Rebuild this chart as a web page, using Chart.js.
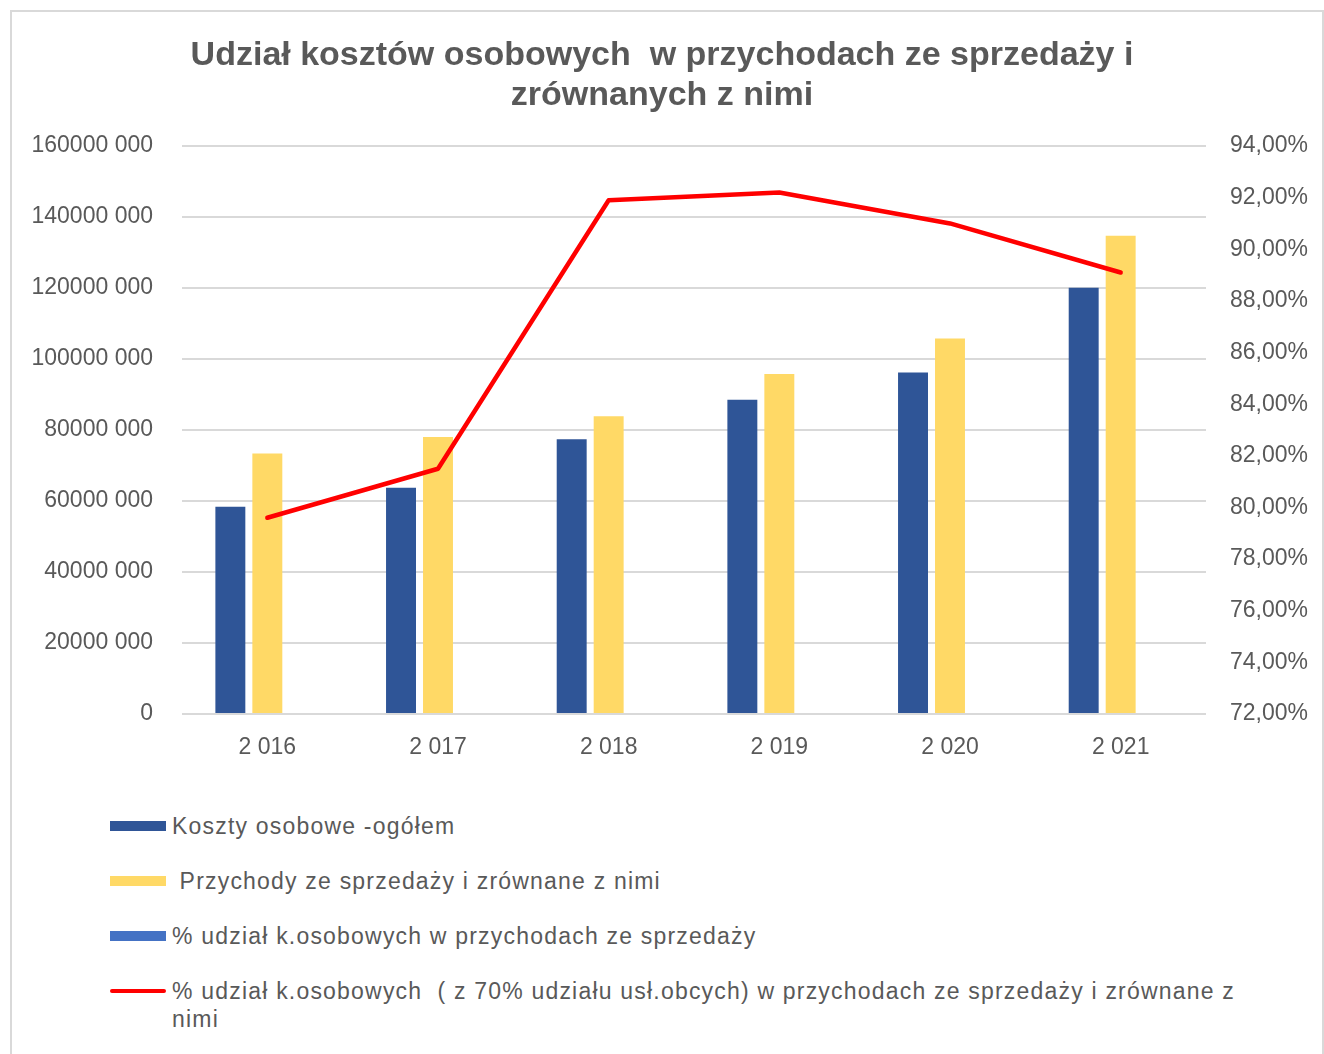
<!DOCTYPE html>
<html>
<head>
<meta charset="UTF-8">
<title>Udział kosztów osobowych w przychodach</title>
<script src="https://cdn.jsdelivr.net/npm/chart.js@4.4.1/dist/chart.umd.min.js"></script>
<style>
  * { margin: 0; padding: 0; box-sizing: border-box; }
  body { width: 1324px; height: 1054px; background: #fff; overflow: hidden; position: relative; font-family: 'Liberation Sans', Arial, sans-serif; }
  .frame { position: absolute; left: 10px; top: 10px; width: 1314px; height: 1100px; border: 2px solid #d9d9d9; }
  .chart-box { position: absolute; left: 0; top: 0; width: 1324px; height: 790px; }
  #legend { position: absolute; left: 110px; top: 812px; width: 1160px; }
  .lg-item { display: flex; align-items: flex-start; margin-bottom: 27px; }
  .lg-mark { flex: 0 0 56px; height: 10px; margin-top: 9px; margin-right: 6px; }
  .lg-text { font-size: 23px; letter-spacing: 1.2px; line-height: 28px; color: #595959; white-space: pre-wrap; width: 1090px; }
</style>
</head>
<body>
<div class="frame"></div>
<div class="chart-box"><canvas id="chart"></canvas></div>
<div id="legend"></div>
<script>
// Dane
const years = ['2 016', '2 017', '2 018', '2 019', '2 020', '2 021'];
const kosztyOsobowe = [58400000, 63700000, 77400000, 88500000, 96200000, 120100000];
const przychody = [73400000, 78000000, 83900000, 95800000, 105800000, 134700000];
const udzialSprzedaz = [null, null, null, null, null, null];
const udzialZUslugami = [79.6, 81.5, 91.9, 92.2, 91.0, 89.1];

const seriesNames = [
  'Koszty osobowe -ogółem',
  ' Przychody ze sprzedaży i zrównane z nimi',
  '% udział k.osobowych w przychodach ze sprzedaży',
  '% udział k.osobowych  ( z 70% udziału usł.obcych) w przychodach ze sprzedaży i zrównane z nimi'
];

const GREY = '#595959';
const FONT = "'Liberation Sans', Arial, sans-serif";

function fmtLeft(v) {
  if (v === 0) return '0';
  const th = Math.floor(v / 1000);
  const rest = String(v % 1000).padStart(3, '0');
  return th + ' ' + rest;
}

const htmlLegend = {
  id: 'htmlLegend',
  afterUpdate(chart) {
    const box = document.getElementById('legend');
    box.innerHTML = '';
    const items = chart.options.plugins.legend.labels.generateLabels(chart)
      .sort((a, b) => a.datasetIndex - b.datasetIndex);
    items.forEach(it => {
      const ds = chart.data.datasets[it.datasetIndex];
      const row = document.createElement('div');
      row.className = 'lg-item';
      const mark = document.createElement('span');
      mark.className = 'lg-mark';
      if (ds.type === 'line') {
        mark.style.height = '4px';
        mark.style.marginTop = '12px';
        mark.style.borderRadius = '2px';
        mark.style.background = ds.borderColor;
      } else {
        mark.style.background = ds.backgroundColor;
      }
      const txt = document.createElement('span');
      txt.className = 'lg-text';
      txt.textContent = it.text;
      row.appendChild(mark);
      row.appendChild(txt);
      box.appendChild(row);
    });
  }
};

new Chart(document.getElementById('chart'), {
  type: 'bar',
  data: {
    labels: years,
    datasets: [{
      label: seriesNames[0],
      data: kosztyOsobowe,
      backgroundColor: '#2f5597',
      yAxisID: 'y',
      order: 1,
    }, {
      label: seriesNames[1],
      data: przychody,
      backgroundColor: '#ffd966',
      yAxisID: 'y',
      order: 1,
    }, {
      label: seriesNames[2],
      data: udzialSprzedaz,
      backgroundColor: '#4472c4',
      yAxisID: 'y',
      order: 1,
    }, {
      type: 'line',
      label: seriesNames[3],
      data: udzialZUslugami,
      borderColor: '#ff0000',
      backgroundColor: '#ff0000',
      borderWidth: 4.5,
      borderCapStyle: 'round',
      borderJoinStyle: 'round',
      pointRadius: 0,
      tension: 0,
      yAxisID: 'y1',
      order: 0,
    }]
  },
  options: {
    responsive: true,
    maintainAspectRatio: false,
    animation: false,
    layout: { padding: 0 },
    datasets: {
      bar: { categoryPercentage: 0.65, barPercentage: 0.81 }
    },
    plugins: {
      legend: { display: false },
      tooltip: { enabled: false },
      title: {
        display: true,
        text: ['Udział kosztów osobowych  w przychodach ze sprzedaży i', 'zrównanych z nimi'],
        color: GREY,
        font: { family: FONT, size: 34, weight: 'bold', lineHeight: 40 / 34 },
        padding: { top: 36, bottom: 30 },
      }
    },
    scales: {
      x: {
        grid: { display: false },
        border: { display: false },
        ticks: { color: GREY, font: { family: FONT, size: 23 }, padding: 12 },
        afterFit(scale) { scale.height = 76; }
      },
      y: {
        position: 'left',
        min: 0,
        max: 160000000,
        grid: { color: '#d9d9d9', lineWidth: 2, drawTicks: false },
        border: { display: false },
        ticks: {
          stepSize: 20000000,
          color: GREY,
          font: { family: FONT, size: 23 },
          padding: 29,
          callback: v => fmtLeft(v)
        },
        afterFit(scale) { scale.width = 182; }
      },
      y1: {
        position: 'right',
        min: 72,
        max: 94,
        grid: { display: false, drawTicks: false },
        border: { display: false },
        ticks: {
          stepSize: 2,
          color: GREY,
          font: { family: FONT, size: 23 },
          padding: 24,
          callback: v => v.toFixed(2).replace('.', ',') + '%'
        },
        afterFit(scale) { scale.width = 118; }
      }
    }
  },
  plugins: [htmlLegend]
});
</script>
</body>
</html>
